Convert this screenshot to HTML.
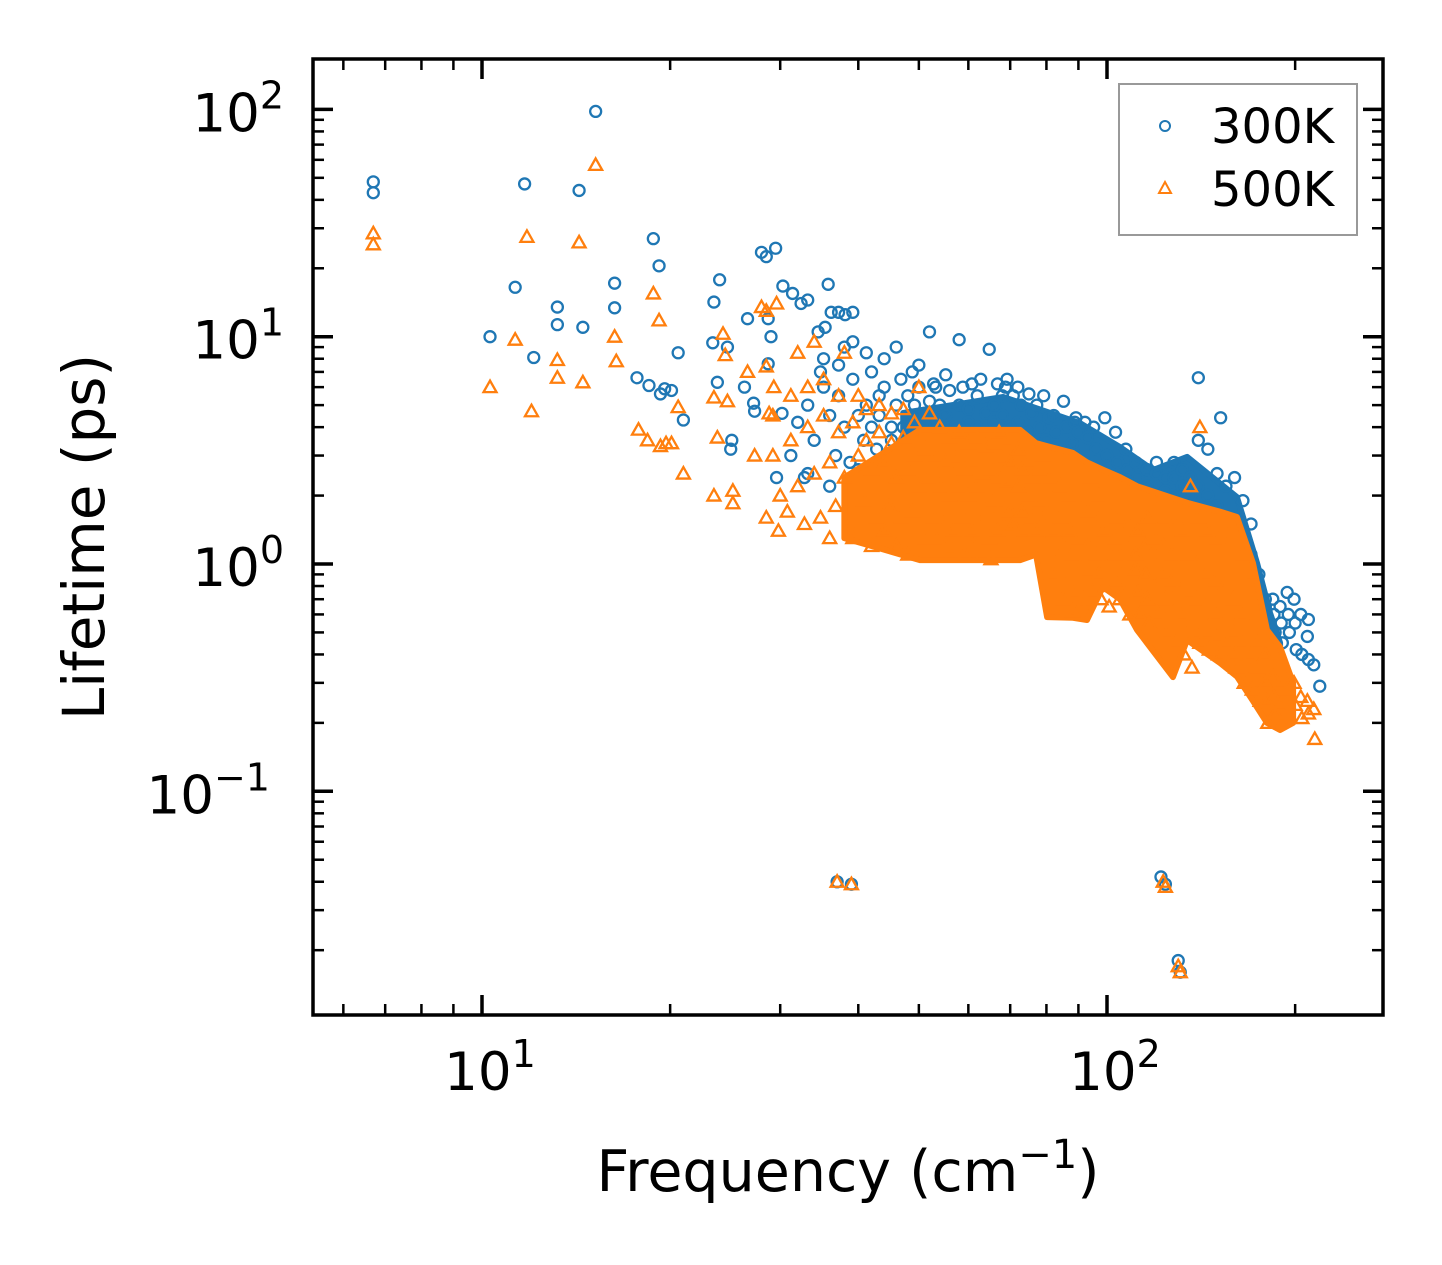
<!DOCTYPE html>
<html><head><meta charset="utf-8"><style>
html,body{margin:0;padding:0;background:#fff;}
svg{display:block;font-family:"DejaVu Sans","Liberation Sans",sans-serif;}
</style></head><body>
<svg id="chart" width="1442" height="1265" viewBox="0 0 1442 1265" xmlns="http://www.w3.org/2000/svg">
<rect width="1442" height="1265" fill="#fff"/>
<g id="marks300"></g>
<g id="marks500"></g>
<g id="axes"></g>
<text transform="translate(104,537) rotate(-90)" text-anchor="middle" font-size="58">Lifetime (ps)</text>
<text x="848" y="1191" text-anchor="middle" font-size="57">Frequency (cm<tspan dy="-23" font-size="40">−1</tspan><tspan dy="23">)</tspan></text>
<g>
<rect x="1119" y="84" width="238" height="151" fill="#fff" stroke="#999" stroke-width="2"/>
<circle cx="1165" cy="126" r="5" fill="none" stroke="#1f77b4" stroke-width="2"/>
<text x="1211" y="143" font-size="48">300K</text>
<path d="M1165,182 L1171,193 L1159,193 Z" fill="none" stroke="#ff7f0e" stroke-width="2"/>
<text x="1211" y="206" font-size="48">500K</text>
</g>
</svg>
<script>
// ---- data ----
const sparseFreq300 = [6.7,6.7,11.7,14.3,15.2,11.3,13.2,13.2,14.5,10.3,12.1,16.3,16.3,17.7,18.5,18.8,19.2,19.3,19.6,20.1,20.6,21,23.5,23.4,24,23.8,24.7,25,25.1,26.3,26.6,27.2,27.3,28,28.5,28.7,28.7,29.5,29,30.3,31.4,32.4,33.2,34.5,35.4,35.8,36.2,37.2,38.1,39.2,37,39,122,124,130,131,140,152,210,219,29.6,30.2];
const sparseLife300 = [48,43,47,44,98,16.5,13.5,11.3,11,10,8.1,17.2,13.4,6.6,6.1,27,20.5,5.6,5.9,5.8,8.5,4.3,14.2,9.4,17.8,6.3,9,3.2,3.5,6,12,5.1,4.7,23.5,22.5,12,7.6,24.5,10,16.7,15.5,14,14.5,10.5,11,17,12.8,12.8,12.5,12.8,0.04,0.039,0.042,0.039,0.018,0.016,6.6,4.4,0.57,0.29,2.4,4.6];
const groupFreq300 = [32,34,36,38,40,42,44,46,48,50,52,54,56,58,60,62,64,66,68,70,72,75,78,80,83,86,88,90,93,96,100,104,108,112,116,120,124,128,132,136,140,145,150,155,160,165,170,175,180,185,190,195,200,205,210,215];
const groupLife300 = [[3,4.2,2.4],[5,3.5,7,2.5],[6,4.5,3,8,2.2],[5.5,4,2.8,7.5,9],[6.5,4.5,3.5,9.5,2.6],[5,7,3.2,8.5,4],[4.5,6,3,5.5,8],[3.5,5,6.5,4,9],[4,5.5,7,3,3.8],[5,6,3.5,4.5,7.5,2.8],[4.2,5.2,6.2,3.2,10.5],[3.8,5,4.5,6,2.7],[4.5,5.8,3.4,6.8,2.6],[4,5,6,3,9.7],[3.5,4.8,6.2,2.8,4.2],[3.2,5.5,6.5,2.5,4],[3.8,4.6,8.8,2.6,3],[3.5,5,6.2,2.4,4.2],[3.2,4.5,6,2.6,5.5],[3,4,5.5,6.5,2.4],[3.4,4.2,5,2.5,6],[2.8,3.8,4.6,2.3,5.6],[3,4,2.5,5,2.2],[2.6,3.5,4.4,5.5,1.8],[2.8,3.8,2.2,4.5,1.7],[3,4,2.4,5.2,1.5],[2.6,3.4,4.2,1.4,2],[3,3.8,2.2,4.4,1.3],[2.8,3.6,2,4.2,1.2],[2.5,3.2,1.8,4,1.4],[2.4,3,1.6,4.4,1.2],[2.2,2.8,1.5,3.8,1.1],[2,2.6,1.4,3.2,1.8],[1.8,2.4,1.3,2.8,1.1],[1.9,2.6,1.4,1.1,2.2],[2,2.5,1.6,1.2,2.8],[1.8,2.4,1.5,1,2.1],[2,2.8,1.6,1.2,2.4],[1.8,2.6,1.4,1,2.2],[1.6,2.4,1.2,0.9,2],[1.5,2.2,1.1,0.8,3.5],[1.4,2,1,0.8,3.2],[1.2,1.8,0.9,0.7,2.5],[1.1,1.6,0.8,0.6,2.2],[1,1.5,0.7,0.55,2.4],[0.9,1.3,0.6,0.5,1.9],[0.8,1.1,0.55,0.45,1.5],[0.7,0.9,0.5,0.4],[0.65,0.55,0.45,0.7],[0.7,0.6,0.5],[0.65,0.55,0.45],[0.75,0.6,0.5],[0.7,0.55,0.42],[0.6,0.4],[0.48,0.38],[0.36]];
// dense-core envelope of 300K points (overlapping markers)
const coreFreq300 = [47.2,68.2,90.5,104.9,118.5,134.3,161.4,173.8,182.3,189.2];
const coreHigh300 = [4.62,5.43,4.17,3.27,2.59,2.96,1.97,1.01,0.61,0.45];
const coreLow300  = [1.5,1.5,1.0,1.0,0.9,0.8,0.6,0.45,0.4,0.4];

const sparseFreq500 = [6.7,6.7,11.8,14.3,15.2,10.3,11.3,12,13.2,13.2,14.5,16.3,16.4,17.8,18.4,18.8,19.2,19.3,19.7,20.1,20.6,21,23.5,23.5,23.8,24.3,24.5,24.7,25.2,25.2,26.6,27.3,28,28.5,28.5,28.8,29.6,29.3,28.5,29.8,37,39,123,124,131,130];
const sparseLife500 = [28.5,25.5,27.5,26,57,6,9.7,4.7,7.9,6.6,6.3,10,7.8,3.9,3.5,15.5,11.8,3.3,3.4,3.4,4.9,2.5,5.4,2,3.6,10.3,8.3,5.2,2.1,1.85,7,3,13.5,13,7.4,4.6,14,6,1.6,1.4,0.04,0.039,0.04,0.038,0.016,0.017];
const groupFreq500 = [30,32,34,36,38,40,42,44,46,48,50,52,54,56,58,60,62,64,66,68,70,73,76,79,82,85,88,91,94,97,100,104,108,112,116,120,124,128,132,136,140,145,150,155,160,165,170,175,180,185,190,195,200,205,210,215];
const groupLife500 = [[3,2,1.7,4.5],[3.5,2.2,1.5,5.5,8.5],[4,2.5,1.6,6,9.5],[4.5,2.8,1.8,6.5,1.3],[3.8,2.4,1.5,5.5,8.5],[4.2,3,1.9,1.3,5.5],[3.5,2.6,1.6,4.8,1.2],[3.8,2.8,1.8,5,1.4],[3.4,2.4,1.6,4.6,1.2],[3.6,2.6,1.7,4.8,1.1],[3,2.2,1.5,4.2,6],[3.2,2.4,1.6,1.3,4.6],[3,2.2,1.5,1.3,4],[2.8,2,1.4,1.2,3.6],[2.9,2.2,1.6,1.2,3.8],[2.6,2,1.4,1.1,3.4],[2.8,2.2,1.5,1.2,3.6],[2.5,1.8,1.3,1.1,3.3],[2.6,1.9,1.4,1.05,3.4],[2.4,1.8,1.5,3.8,2.9],[2.3,1.7,1.5,3.5,2.8],[2.2,1.7,1.4,3.2,2.6],[2,1.6,1.4,2.8,2.4],[1.9,1.5,1.2,2.6,3],[1.8,1.4,1,2.4,0.9],[1.6,1.2,0.8,2.2,0.7],[1.4,1.1,0.75,2,0.62],[1.3,1,0.7,1.8,0.65],[1.2,0.95,0.75,1.7,2.4],[1.1,0.9,0.7,1.5,2],[1,0.8,0.65,1.4,1.8],[1.1,0.85,0.7,1.3,1.6],[1,0.8,0.6,1.2,1.5],[0.95,0.75,0.6,1.1,1.4],[0.9,0.7,0.55,1.2,1.6],[1,0.8,0.6,1.3,1.8],[0.9,0.7,0.5,1.2,1.6],[0.85,0.65,0.45,1.1,1.5],[0.8,0.6,0.4,1,1.4],[0.75,0.55,0.35,1.1,2.2],[0.7,0.5,0.45,1,1.6,4],[0.65,0.5,0.42,0.9,1.4],[0.6,0.48,0.4,0.85,1.3],[0.55,0.45,0.38,0.8,1.2],[0.5,0.4,0.35,0.7,1.5],[0.45,0.38,0.3,0.6,1.1],[0.4,0.32,0.28,0.55,0.9],[0.35,0.3,0.25,0.45],[0.3,0.25,0.2,0.4],[0.32,0.26,0.22],[0.3,0.24],[0.28,0.22],[0.3,0.24],[0.26,0.21],[0.25,0.22],[0.23,0.17]];
// dense-core envelope of 500K points
const coreFreq500 = [38,50.2,72.6,77,80.2,88.2,92.9,98.5,104.9,111.7,127.5,134.3,151.6,161.4,171.2,180.3,189.2,198.5];
const coreHigh500 = [2.4,3.89,3.89,3.4,3.3,3.08,2.8,2.6,2.41,2.2,1.95,1.86,1.7,1.61,1.01,0.513,0.431,0.3];
const coreLow500  = [1.3,1.04,1.04,1.1,0.584,0.58,0.567,0.792,0.7,0.513,0.318,0.463,0.367,0.32,0.25,0.2,0.186,0.2];

const xTickValues = [10,100];
const xTickLabels = ["1","2"];
const yTickValues = [0.1,1,10,100];
const yTickLabels = ["−1","0","1","2"];

// ---- axes ----
const L=313,R=1383,T=59,B=1015;
const xScale=f=>482+(Math.log10(f)-1)*625;
const yScale=v=>564-Math.log10(v)*227.3;
const NS="http://www.w3.org/2000/svg";
function mk(tag,attrs,parent){const e=document.createElementNS(NS,tag);for(const k in attrs)e.setAttribute(k,attrs[k]);parent.appendChild(e);return e;}

const g3=document.getElementById('marks300');
const g5=document.getElementById('marks500');
function core(freqs,hi,lo,color,g,name){
  const pts=[];
  freqs.forEach((f,i)=>pts.push(xScale(f)+','+yScale(hi[i])));
  for(let i=freqs.length-1;i>=0;i--)pts.push(xScale(freqs[i])+','+yScale(lo[i]));
  const p=mk('polygon',{points:pts.join(' '),fill:color,stroke:color,'stroke-width':6,'stroke-linejoin':'round'},g);
  
  
}
function circ(f,v){const c=mk('circle',{cx:xScale(f),cy:yScale(v),r:5.5,fill:'none',stroke:'#1f77b4','stroke-width':2.3},g3);

}
function tri(f,v){const x=xScale(f),y=yScale(v);const p=mk('path',{d:`M${x},${y-6.5} L${x+6.5},${y+5} L${x-6.5},${y+5} Z`,fill:'none',stroke:'#ff7f0e','stroke-width':2.3},g5);

}
core(coreFreq300,coreHigh300,coreLow300,'#1f77b4',g3,'core-300k');
sparseFreq300.forEach((f,i)=>circ(f,sparseLife300[i]));
groupFreq300.forEach((f,i)=>groupLife300[i].forEach((v,j)=>circ(f+(j%3-1)*0.8,v)));
core(coreFreq500,coreHigh500,coreLow500,'#ff7f0e',g5,'core-500k');
sparseFreq500.forEach((f,i)=>tri(f,sparseLife500[i]));
groupFreq500.forEach((f,i)=>groupLife500[i].forEach((v,j)=>tri(f+(j%3-1)*0.8,v)));

const ax=document.getElementById('axes');
const frame=mk('rect',{x:L,y:T,width:R-L,height:B-T,fill:'none',stroke:'#000','stroke-width':3.5},ax);


for(let d=0;d<3;d++){for(let m=1;m<10;m++){const f=m*Math.pow(10,d);const x=xScale(f);if(x<L+1||x>R-1)continue;const major=(m===1);const len=major?20:11,w=major?3.5:2.5;
mk('line',{x1:x,y1:B,x2:x,y2:B-len,stroke:'#000','stroke-width':w},ax);mk('line',{x1:x,y1:T,x2:x,y2:T+len,stroke:'#000','stroke-width':w},ax);}}
xTickValues.forEach((v,i)=>{const t=mk('text',{x:xScale(v)+8,y:1090,'text-anchor':'middle','font-size':53},ax);t.textContent='10';const s=mk('tspan',{dy:-23,'font-size':38},t);s.textContent=xTickLabels[i];

});
for(let d=-2;d<3;d++){for(let m=1;m<10;m++){const v=m*Math.pow(10,d);const y=yScale(v);if(y<T+1||y>B-1)continue;const major=(m===1);const len=major?20:11,w=major?3.5:2.5;
mk('line',{x1:L,y1:y,x2:L+len,y2:y,stroke:'#000','stroke-width':w},ax);mk('line',{x1:R,y1:y,x2:R-len,y2:y,stroke:'#000','stroke-width':w},ax);}}
yTickValues.forEach((v,i)=>{const y=yScale(v);const t=mk('text',{x:i===0?270:284,y:y+22,'text-anchor':'end','font-size':53},ax);t.textContent='10';const s=mk('tspan',{dy:-23,'font-size':38},t);s.textContent=yTickLabels[i];

});
</script>
</body></html>
